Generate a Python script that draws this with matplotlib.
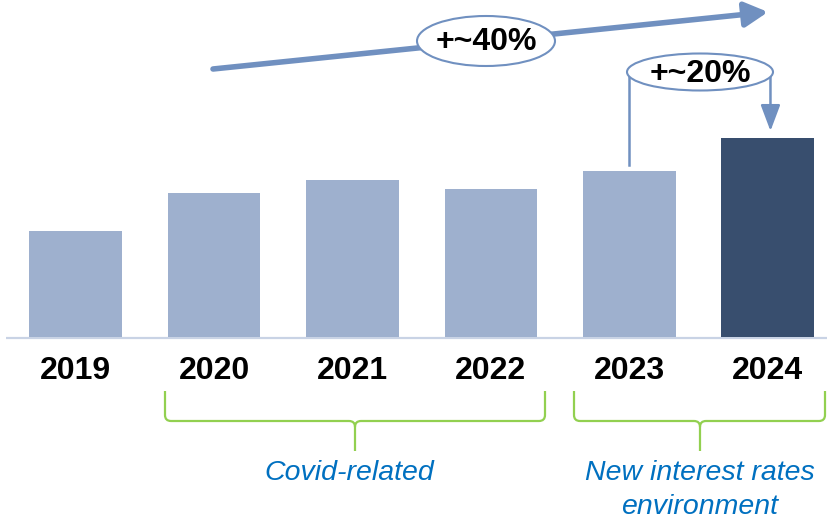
import matplotlib
matplotlib.use("Agg")
import matplotlib.pyplot as plt
from matplotlib.patches import Ellipse, FancyArrowPatch, PathPatch
from matplotlib.path import Path

years = ["2019", "2020", "2021", "2022", "2023", "2024"]
values = [106, 144, 157, 148, 166, 199]
big_label = "+~40%"
step_label = "+~20%"
group_labels = ["Covid-related", "New interest rates", "environment"]

LIGHT = "#9EB0CE"
DARK = "#384E6E"
ARROW = "#7090C0"
GREEN = "#92D050"
BLUE_TXT = "#0070C0"

W, H = 828, 522
fig = plt.figure(figsize=(W / 100, H / 100), dpi=100)
ax = fig.add_axes([0, 0, 1, 1])
x0, dx, base = 75.7, 138.4, 337
ax.set_xlim(-x0 / dx, (W - x0) / dx)
ax.set_ylim(base - H, base)
ax.axis("off")

def P(px, py):
    """pixel (from top-left) -> data coords"""
    return ((px - x0) / dx, base - py)

xs = list(range(len(years)))
colors = [LIGHT] * (len(years) - 1) + [DARK]
ax.bar(xs, values, width=0.668, color=colors, zorder=3)

# baseline
ax.plot([P(6, 0)[0], P(828, 0)[0]], [-1, -1], color="#C9D3E5", lw=1.6, zorder=2,
        solid_capstyle="butt")

# year labels
for i, y in enumerate(years):
    ax.text(i, -34, y, ha="center", va="center", fontsize=23, fontweight="bold",
            family="Liberation Sans", color="black")

# big trend arrow
a = FancyArrowPatch(P(213, 69), P(768, 12), arrowstyle="-|>,head_length=1.4,head_width=0.75",
                    mutation_scale=10, color=ARROW, lw=4, zorder=4, shrinkA=0, shrinkB=0)
ax.add_patch(a)
cx, cy = P(486, 41)
e = Ellipse((cx, cy), 138 / dx, 50, facecolor="white", edgecolor=ARROW, lw=1.5, zorder=5)
ax.add_patch(e)
ax.text(cx, cy - 1.5, big_label, ha="center", va="center", fontsize=23, fontweight="bold",
        family="Liberation Sans", zorder=6)

# +20% connector
ey = values[4] + 99
ax.plot([4.0, 4.0], [values[4] + 6, ey], color=ARROW, lw=1.8, zorder=4)
a2 = FancyArrowPatch((5.02, ey), (5.02, values[5] + 7), arrowstyle="-|>,head_length=1.6,head_width=0.6",
                     mutation_scale=10, color=ARROW, lw=1.8, zorder=4, shrinkA=0, shrinkB=0)
ax.add_patch(a2)
cx2, cy2 = P(700, 72)
e2 = Ellipse((cx2, cy2), 146 / dx, 37, facecolor="white", edgecolor=ARROW, lw=1.5, zorder=5)
ax.add_patch(e2)
ax.text(cx2, cy2 - 1.5, step_label, ha="center", va="center", fontsize=23, fontweight="bold",
        family="Liberation Sans", zorder=6)

# braces
def brace(xl, xr, xc, ytop=391, yh=421, ybot=451, r=6):
    pts = [P(xl, ytop), P(xl, yh - r), P(xl, yh), P(xl + r, yh),
           P(xc - r, yh), P(xc, yh), P(xc, yh + r), P(xc, ybot),
           P(xc, yh + r), P(xc, yh), P(xc + r, yh),
           P(xr - r, yh), P(xr, yh), P(xr, yh - r), P(xr, ytop)]
    codes = [Path.MOVETO, Path.LINETO, Path.CURVE3, Path.CURVE3,
             Path.LINETO, Path.CURVE3, Path.CURVE3, Path.LINETO,
             Path.MOVETO, Path.CURVE3, Path.CURVE3,
             Path.LINETO, Path.CURVE3, Path.CURVE3, Path.LINETO]
    ax.add_patch(PathPatch(Path(pts, codes), facecolor="none", edgecolor=GREEN, lw=1.6,
                           zorder=4))

brace(165, 545, 355)
brace(574, 825, 700)

for (px, py), lab in zip([(349, 473), (700, 473), (700, 507)], group_labels):
    tx, ty = P(px, py)
    ax.text(tx, ty, lab, ha="center", va="center", fontsize=20.5, style="italic",
            family="Liberation Sans", color=BLUE_TXT)

fig.savefig("out.png", dpi=100)
